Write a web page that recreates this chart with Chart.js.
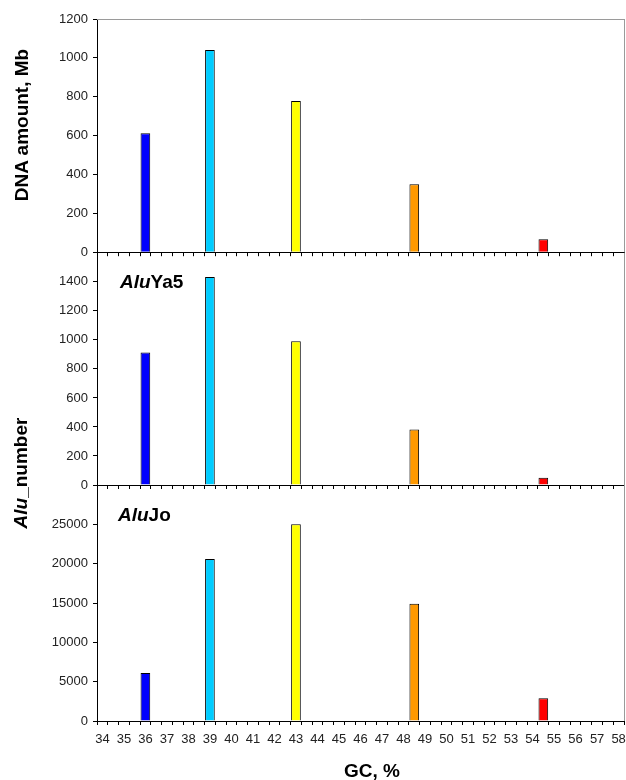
<!DOCTYPE html>
<html>
<head>
<meta charset="utf-8">
<script src="https://cdn.jsdelivr.net/npm/chart.js@4.4.1/dist/chart.umd.min.js"></script>
<style>
  html, body { margin: 0; padding: 0; background: #fff; }
  #page { position: relative; width: 626px; height: 780px; overflow: hidden; font-family: 'Liberation Sans', Arial, sans-serif; color: #000; }
  .panel { position: absolute; left: 0; width: 626px; }
  .txt { position: absolute; white-space: nowrap; font-weight: bold; line-height: 1; }
  .rot { transform: translate(-50%, -50%) rotate(-90deg); }
  .ctr { transform: translate(-50%, -50%); }
</style>
</head>
<body>
<div id="page">
  <div class="panel" id="p1" style="top:0px;height:265px"><canvas id="c1"></canvas></div>
  <div class="panel" id="p2" style="top:240px;height:262px"><canvas id="c2"></canvas></div>
  <div class="panel" id="p3" style="top:470px;height:310px"><canvas id="c3"></canvas></div>

  <div class="txt rot" style="left:21px;top:125px;font-size:19px">DNA amount, Mb</div>
  <div class="txt rot" style="left:20px;top:473px;font-size:19px"><i>Alu</i>_number</div>
  <div class="txt" style="left:120px;top:272px;font-size:19px"><i>Alu</i>Ya5</div>
  <div class="txt" style="left:118px;top:505px;font-size:19px"><i>Alu</i>Jo</div>
  <div class="txt ctr" style="left:372px;top:770px;font-size:19px">GC, %</div>
</div>

<script>
// GC bins, half-percent steps (only whole numbers get a label)
const gcBins = ['34', '34.5', '35', '35.5', '36', '36.5', '37', '37.5', '38', '38.5',
  '39', '39.5', '40', '40.5', '41', '41.5', '42', '42.5', '43', '43.5',
  '44', '44.5', '45', '45.5', '46', '46.5', '47', '47.5', '48', '48.5',
  '49', '49.5', '50', '50.5', '51', '51.5', '52', '52.5', '53', '53.5',
  '54', '54.5', '55', '55.5', '56', '56.5', '57', '57.5', '58'];

// isochore families: GC position of each bar
const isochoreGC = ['36', '39', '43', '48.5', '54.5'];

const dnaMb = [612, 1040, 778, 350, 67];
const aluYa5 = [913, 1434, 990, 382, 50];
const aluJo = [6100, 20600, 25000, 14900, 2900];

const barColors = ['#0000ff', '#00ccff', '#ffff00', '#ff9900', '#ff0000'];

const tickFont = { family: "'Liberation Sans', Arial, sans-serif", size: 13 };

let frameLines = function(withTop) {
    return {
        id: 'frameLines',
        afterDatasetsDraw(chart) {
            const a = chart.chartArea, c = chart.ctx;
            c.save();
            c.strokeStyle = '#9a9a9a';
            c.lineWidth = 1;
            c.beginPath();
            if (withTop) {
                c.moveTo(a.left, a.top + 0.5);
                c.lineTo(a.right + 0.5, a.top + 0.5);
            }
            c.moveTo(a.right + 0.5, a.top);
            c.lineTo(a.right + 0.5, a.bottom);
            c.stroke();
            c.restore();
        }
    };
};

let makePanel = function(id, values, yMax, yStep, showTop, opts) {
    const el = document.getElementById(id);
    const holder = el.parentNode;
    el.width = holder.clientWidth;
    el.height = holder.clientHeight;

    return new Chart(el.getContext('2d'), {
        type: 'bar',
        data: {
            labels: gcBins,
            datasets: [{
                data: isochoreGC.map((gc, i) => ({ x: gc, y: values[i] })),
                backgroundColor: barColors,
                borderColor: '#000',
                borderWidth: 1,
                barPercentage: 0.9,
                categoryPercentage: 1.0
            }]
        },
        options: {
            responsive: false,
            animation: false,
            layout: { padding: opts.padding },
            plugins: { legend: { display: false }, tooltip: { enabled: false } },
            scales: {
                x: {
                    grid: { drawOnChartArea: false, tickLength: 4, color: '#000', offset: true },
                    border: { color: '#000', width: 1 },
                    ticks: {
                        display: opts.xLabels,
                        autoSkip: false,
                        maxRotation: 0,
                        padding: 7,
                        color: '#222',
                        font: tickFont,
                        callback: function(v, i) {
                            const lab = gcBins[i];
                            return lab.indexOf('.') < 0 ? lab : '';
                        }
                    },
                    afterFit: function(s) {
                        s.height = opts.xHeight;
                        s.paddingLeft = 0;
                        s.paddingRight = 0;
                    }
                },
                y: {
                    min: 0,
                    max: yMax,
                    grid: { drawOnChartArea: false, tickLength: 4, color: '#000' },
                    border: { color: '#000', width: 1 },
                    ticks: {
                        stepSize: yStep,
                        padding: 5,
                        color: '#222',
                        font: tickFont,
                        callback: v => (showTop || v < yMax) ? String(v) : ''
                    },
                    afterFit: function(s) { s.width = 97; }
                }
            }
        },
        plugins: [frameLines(opts.topLine)]
    });
};

makePanel('c1', dnaMb, 1200, 200, true,
    { padding: { top: 19, right: 2, bottom: 3, left: 0 }, xLabels: false, xHeight: 4, topLine: true });
makePanel('c2', aluYa5, 1600, 200, false,
    { padding: { top: 12, right: 2, bottom: 13, left: 0 }, xLabels: false, xHeight: 4, topLine: false });
makePanel('c3', aluJo, 30000, 5000, false,
    { padding: { top: 15, right: 2, bottom: 29, left: 0 }, xLabels: true, xHeight: 30, topLine: false });
</script>
</body>
</html>
